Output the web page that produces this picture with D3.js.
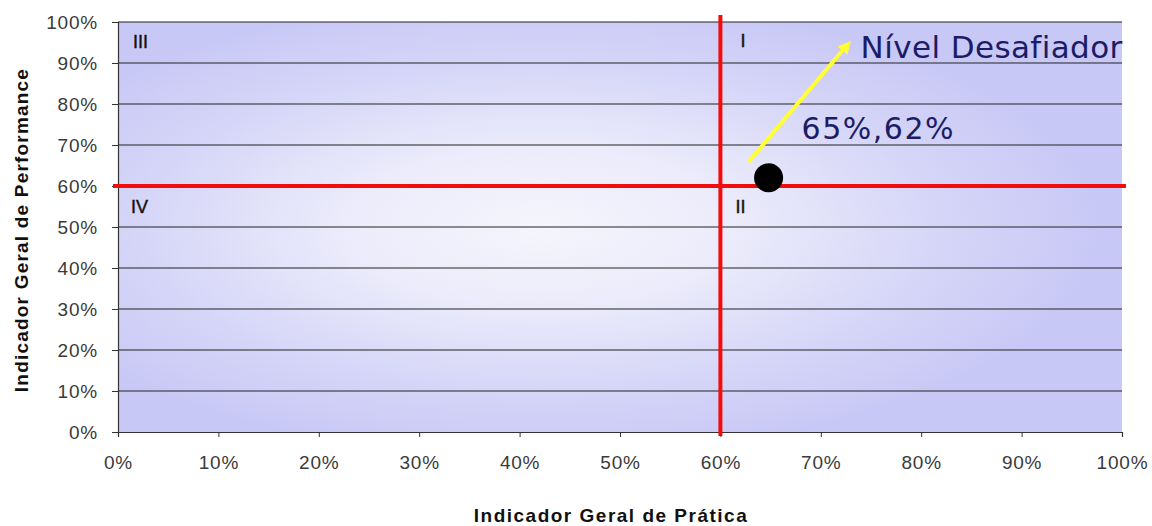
<!DOCTYPE html>
<html>
<head>
<meta charset="utf-8">
<script src="https://cdn.jsdelivr.net/npm/d3@7"></script>
<style>
  body { margin: 0; background: #fff; }
  text { font-family: Arial, "Liberation Sans", sans-serif; }
</style>
</head>
<body>
<div id="chart"></div>
<script>
// data
var xTicks = [0, 0.1, 0.2, 0.3, 0.4, 0.5, 0.6, 0.7, 0.8, 0.9, 1.0];
var yTicks = [0, 0.1, 0.2, 0.3, 0.4, 0.5, 0.6, 0.7, 0.8, 0.9, 1.0];
var pointX = [0.65];
var pointY = [0.62];
var thresholdX = 0.6, thresholdY = 0.6;
var quadrants = ["I", "II", "III", "IV"];
var pointLabel = "65%,62%";
var arrowLabel = "Nível Desafiador";

var width = 1152, height = 526;
var margin = {top: 22, right: 30, bottom: 94, left: 118};
var w = width - margin.left - margin.right,
    h = height - margin.top - margin.bottom;

var svg = d3.select("#chart").append("svg")
    .attr("width", width)
    .attr("height", height);

var defs = svg.append("defs");
var grad = defs.append("radialGradient")
    .attr("id", "bg")
    .attr("cx", "0.42").attr("cy", "0.5").attr("r", "0.56")
    .attr("fx", "0.42").attr("fy", "0.5");
grad.append("stop").attr("offset", "0%").attr("stop-color", "#f5f5fd");
grad.append("stop").attr("offset", "35%").attr("stop-color", "#ebebfb");
grad.append("stop").attr("offset", "70%").attr("stop-color", "#d6d6f8");
grad.append("stop").attr("offset", "100%").attr("stop-color", "#c8c8f6");

var marker = defs.append("marker")
    .attr("id", "arrow")
    .attr("viewBox", "0 0 10 10")
    .attr("refX", 5).attr("refY", 5)
    .attr("markerWidth", 3.2).attr("markerHeight", 3.2)
    .attr("orient", "auto");
marker.append("path").attr("d", "M0,0 L10,5 L0,10 Z").attr("fill", "#ffff33");

var g = svg.append("g")
    .attr("transform", "translate(" + margin.left + "," + margin.top + ")");

var x = d3.scaleLinear().domain([0, 1]).range([0, w]);
var y = d3.scaleLinear().domain([0, 1]).range([h, 0]);
var pct = d3.format(".0%");

// plot background
g.append("rect")
    .attr("width", w).attr("height", h)
    .attr("fill", "url(#bg)");

// gridlines
g.append("g").selectAll("line")
    .data(yTicks.filter(function(d) { return d > 0; }))
  .enter().append("line")
    .attr("x1", 0).attr("x2", w)
    .attr("y1", function(d) { return y(d); })
    .attr("y2", function(d) { return y(d); })
    .attr("stroke", "#222")
    .attr("stroke-width", 1.2);

// axes
var yAxis = g.append("g")
    .call(d3.axisLeft(y).tickValues(yTicks).tickFormat(pct).tickSize(6).tickPadding(14));
var xAxis = g.append("g")
    .attr("transform", "translate(0," + h + ")")
    .call(d3.axisBottom(x).tickValues(xTicks).tickFormat(pct).tickSize(5).tickPadding(19));

[yAxis, xAxis].forEach(function(a) {
  a.select(".domain").attr("stroke", "#333").attr("stroke-width", 1.2);
  a.selectAll(".tick line").attr("stroke", "#333");
  a.selectAll(".tick text")
    .attr("fill", "#3a3a3a")
    .style("font-size", "19px")
    .style("letter-spacing", "0.8px")
    .style("font-family", "Arial, 'Liberation Sans', sans-serif");
});
yAxis.selectAll(".tick text").attr("dy", "0.36em");

// red threshold lines
g.append("line")
    .attr("x1", x(thresholdX)).attr("x2", x(thresholdX))
    .attr("y1", -7).attr("y2", h + 4)
    .attr("stroke", "#f20d0d").attr("stroke-width", 4);
g.append("line")
    .attr("x1", -5).attr("x2", w + 4)
    .attr("y1", y(thresholdY)).attr("y2", y(thresholdY))
    .attr("stroke", "#f20d0d").attr("stroke-width", 4);

// quadrant labels
var qPos = {
  "I":   [x(thresholdX) + 20, y(1) + 25],
  "II":  [x(thresholdX) + 15, y(thresholdY) + 27],
  "III": [15, y(1) + 26],
  "IV":  [13, y(thresholdY) + 27]
};
g.append("g").selectAll("text")
    .data(quadrants)
  .enter().append("text")
    .attr("x", function(d) { return qPos[d][0]; })
    .attr("y", function(d) { return qPos[d][1]; })
    .attr("fill", "#111")
    .attr("stroke", "#111").attr("stroke-width", 0.4)
    .style("font-size", "18px")
    .text(function(d) { return d; });

// yellow arrow
var px = x(pointX[0]), py = y(pointY[0]);
g.append("line")
    .attr("x1", px - 22).attr("y1", py - 16)
    .attr("x2", px + 76).attr("y2", py - 132)
    .attr("stroke", "#ffff33").attr("stroke-width", 4)
    .attr("marker-end", "url(#arrow)");

// point
g.selectAll(".pt")
    .data(pointX)
  .enter().append("circle")
    .attr("class", "pt")
    .attr("cx", function(d) { return x(d) - 2; })
    .attr("cy", function(d, i) { return y(pointY[i]); })
    .attr("r", 14.5)
    .attr("fill", "#000");

// annotations
g.append("text")
    .attr("x", px + 31).attr("y", py - 39)
    .attr("fill", "#1c1c66")
    .style("font-family", "Verdana, 'DejaVu Sans', sans-serif")
    .style("font-size", "30px")
    .style("letter-spacing", "1.5px")
    .text(pointLabel);
g.append("text")
    .attr("x", px + 90).attr("y", py - 120)
    .attr("fill", "#1c1c66")
    .style("font-family", "Verdana, 'DejaVu Sans', sans-serif")
    .style("font-size", "31px")
    .style("letter-spacing", "0.4px")
    .text(arrowLabel);

// axis titles
svg.append("text")
    .attr("x", 611).attr("y", height - 4)
    .attr("text-anchor", "middle")
    .attr("fill", "#111")
    .style("font-size", "19px").style("font-weight", "bold")
    .style("letter-spacing", "1.5px")
    .text("Indicador Geral de Prática");
svg.append("text")
    .attr("transform", "translate(28," + (margin.top + h / 2 + 3) + ") rotate(-90)")
    .attr("text-anchor", "middle")
    .attr("fill", "#111")
    .style("font-size", "19px").style("font-weight", "bold")
    .style("letter-spacing", "1.2px")
    .text("Indicador Geral de Performance");
</script>
</body>
</html>
